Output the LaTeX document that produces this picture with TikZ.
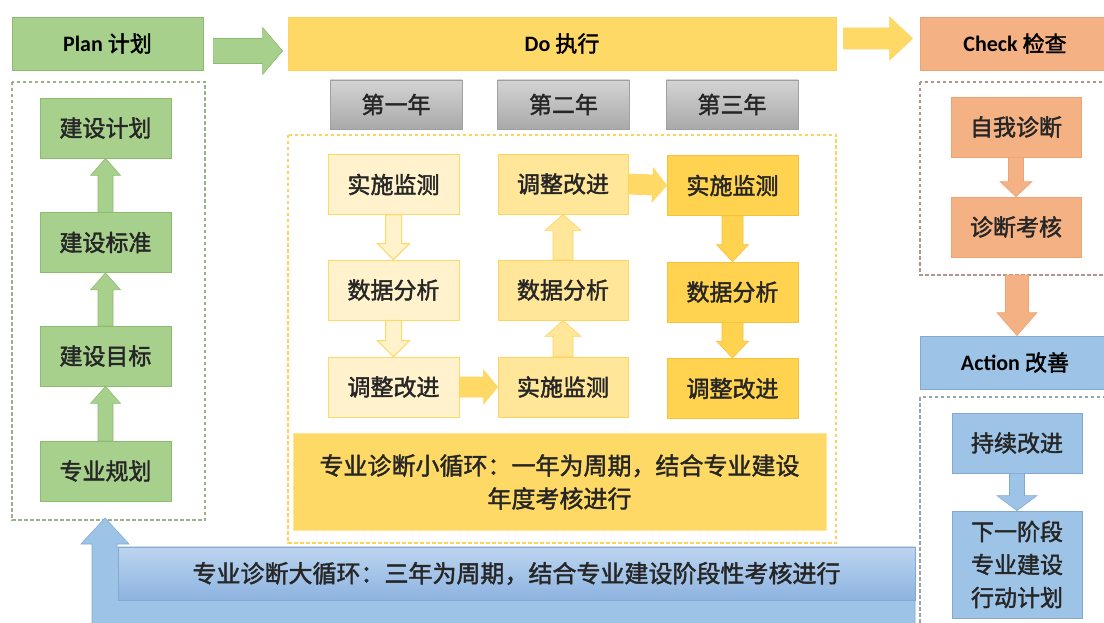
\documentclass[tikz,border=0pt]{standalone}
\usepackage{fontspec}
\setmainfont{Carlito}
\newfontfamily\cjk[FakeBold=1.8]{Noto Sans CJK SC}
\usetikzlibrary{calc}
\definecolor{gfill}{HTML}{A8D08D}
\definecolor{gdraw}{HTML}{8CBC6E}
\definecolor{gdash}{HTML}{9DB08A}
\definecolor{dofill}{HTML}{FFD966}
\definecolor{y1fill}{HTML}{FFF2CC}
\definecolor{y1draw}{HTML}{FFD966}
\definecolor{y2fill}{HTML}{FFE699}
\definecolor{y2draw}{HTML}{FFD45C}
\definecolor{y3fill}{HTML}{FFD24F}
\definecolor{y3draw}{HTML}{F5C23A}
\definecolor{bnfill}{HTML}{FFD966}
\definecolor{ydash}{HTML}{FFD35A}
\definecolor{grtop}{HTML}{D4D4D4}
\definecolor{grbot}{HTML}{A9A9A9}
\definecolor{grdraw}{HTML}{A0A0A0}
\definecolor{sfill}{HTML}{F4B183}
\definecolor{sdraw}{HTML}{EFA274}
\definecolor{sdash}{HTML}{B0958A}
\definecolor{bfill}{HTML}{9DC3E6}
\definecolor{bdraw}{HTML}{82A9D4}
\definecolor{btop}{HTML}{BCD5F0}
\definecolor{bbot}{HTML}{8DB3E0}
\definecolor{bdash}{HTML}{98A2B4}
\definecolor{txt}{HTML}{262626}
\newcommand\fatarrow[6][]{%
  \coordinate (faS) at (#2);
  \coordinate (faE) at (#3);
  \coordinate (faH) at ($(faE)!#6!(faS)$);
  \path[#1] ($(faS)!#4!90:(faE)$) -- ($(faH)!#4!90:(faE)$) -- ($(faH)!#5!90:(faE)$) -- (faE)
    -- ($(faH)!#5!-90:(faE)$) -- ($(faH)!#4!-90:(faE)$) -- ($(faS)!#4!-90:(faE)$) -- cycle;}
\tikzset{
  every node/.style={inner sep=0pt, align=center, text=txt},
  bx/.style={minimum width=131pt, minimum height=60pt, line width=0.8pt, font=\cjk\fontsize{23}{27}\selectfont},
  gbox/.style={bx, fill=gfill, draw=gdraw},
  ybox1/.style={bx, fill=y1fill, draw=y1draw},
  ybox2/.style={bx, fill=y2fill, draw=y2draw},
  ybox3/.style={bx, fill=y3fill, draw=y3draw},
  sbox/.style={bx, fill=sfill, draw=sdraw},
  bbox/.style={bx, fill=bfill, draw=bdraw},
  yearbox/.style={minimum width=132pt, minimum height=49pt, top color=grtop, bottom color=grbot, draw=grdraw, line width=0.6pt, font=\cjk\fontsize{23}{27}\selectfont},
  hdr/.style={minimum height=53pt, line width=0.8pt, font=\fontsize{22}{26}\selectfont, text=black},
  frame/.style={dashed, dash pattern=on 3.5pt off 2.5pt, line width=1.3pt},
  garrow/.style={fill=gfill, draw=gdraw, line width=0.6pt},
  y1arrow/.style={fill=y1fill, draw=y1draw, line width=1pt},
  y2arrow/.style={fill=y2fill, draw=y2draw, line width=0.6pt},
  y3arrow/.style={fill=y3fill, draw=y3draw, line width=0.6pt},
  harrow/.style={fill=dofill, draw=y2draw, line width=0.6pt},
  sarrow/.style={fill=sfill, draw=sdraw, line width=0.6pt},
  barrow/.style={fill=bfill, draw=bdraw, line width=0.6pt},
}
\begin{document}
\begin{tikzpicture}[x=1pt,y=-1pt]
\useasboundingbox (0,0) rectangle (1104,623);
\fill[white] (0,0) rectangle (1104,623);
% dashed frames
\draw[frame, gdash] (12,82) rectangle (205,520);
\draw[frame, ydash] (288,135) rectangle (836,543);
\draw[frame, sdash] (920,82) rectangle (1112,275);
\draw[frame, bdash] (920,397) rectangle (1112,640);
% headers
\node[hdr, fill=gfill, draw=gdraw, minimum width=191pt] (plan) at (107.5,43.5) {{\bfseries Plan} {\cjk 计划}};
\node[hdr, fill=dofill, draw=y2draw, minimum width=548pt] (do) at (562,43.5) {{\bfseries Do} {\cjk 执行}};
\node[hdr, fill=sfill, draw=sdraw, minimum width=190pt] (check) at (1015,43.5) {{\bfseries Check} {\cjk 检查}};
\node[hdr, fill=bfill, draw=bdraw, minimum width=190pt] (act) at (1015,362.5) {{\bfseries Action} {\cjk 改善}};
% plan column
\node[gbox] (p1) at (105.5,128) {建设计划};
\node[gbox] (p2) at (105.5,242.5) {建设标准};
\node[gbox] (p3) at (105.5,356) {建设目标};
\node[gbox] (p4) at (105.5,471) {专业规划};
\fatarrow[garrow]{p4.north}{p3.south}{7.5pt}{15pt}{17pt}
\fatarrow[garrow]{p3.north}{p2.south}{7.5pt}{15pt}{17pt}
\fatarrow[garrow]{p2.north}{p1.south}{7.5pt}{15pt}{17pt}
% years
\node[yearbox] (y1) at (396,104.5) {第一年};
\node[yearbox] (y2) at (563.5,104.5) {第二年};
\node[yearbox] (y3) at (732,104.5) {第三年};
% do columns
\node[ybox1] (a1) at (393.5,184.5) {实施监测};
\node[ybox1] (a2) at (393.5,290) {数据分析};
\node[ybox1] (a3) at (393.5,387) {调整改进};
\node[ybox2, minimum width=130pt] (b1) at (563,184) {调整改进};
\node[ybox2, minimum width=130pt] (b2) at (563,290) {数据分析};
\node[ybox2, minimum width=130pt] (b3) at (563,387) {实施监测};
\node[ybox3] (c1) at (732.5,185.5) {实施监测};
\node[ybox3] (c2) at (732.5,292) {数据分析};
\node[ybox3] (c3) at (732.5,388.5) {调整改进};
\fatarrow[y1arrow]{a1.south}{a2.north}{8pt}{16pt}{16pt}
\fatarrow[y1arrow]{a2.south}{a3.north}{8pt}{16pt}{16pt}
\fatarrow[y2arrow]{b3.north}{b2.south}{10pt}{18pt}{16pt}
\fatarrow[y2arrow]{b2.north}{b1.south}{10pt}{18pt}{16pt}
\fatarrow[y3arrow]{c1.south}{c2.north}{10.5pt}{16pt}{17pt}
\fatarrow[y3arrow]{c2.south}{c3.north}{10.5pt}{16pt}{17pt}
\fatarrow[harrow]{a3.east}{b3.west}{10pt}{17pt}{14pt}
\fatarrow[harrow]{b1.east}{c1.west}{10pt}{17pt}{14pt}
\node[fill=bnfill, draw=y2fill, line width=0.8pt, minimum width=533pt, minimum height=97pt, font=\cjk\fontsize{24}{33}\selectfont] (small) at (559.5,482) {专业诊断小循环：一年为周期，结合专业建设\\年度考核进行};
% top arrows
\fatarrow[garrow]{[xshift=10pt,yshift=-7.5pt]plan.east}{[xshift=-5pt,yshift=-7.5pt]do.west}{12.5pt}{23.5pt}{20pt}
\fatarrow[harrow]{[xshift=7pt,yshift=5pt]do.east}{[xshift=-7pt,yshift=5pt]check.west}{10.5pt}{21.5pt}{23pt}
% check column
\node[sbox, minimum width=130pt] (k1) at (1016,127) {自我诊断};
\node[sbox, minimum width=130pt] (k2) at (1016,227) {诊断考核};
\fatarrow[sarrow]{k1.south}{k2.north}{7.5pt}{16pt}{15pt}
\coordinate (kbot) at (1017,275);
\fatarrow[sarrow]{kbot}{[xshift=2pt]act.north}{11.5pt}{20pt}{23pt}
% action column
\node[bbox, minimum width=130pt] (m1) at (1017,443) {持续改进};
\node[bbox, minimum width=130pt, minimum height=107pt, font=\cjk\fontsize{23}{33}\selectfont] (m2) at (1017,564.5) {下一阶段\\专业建设\\行动计划};
\fatarrow[barrow]{m1.south}{m2.north}{7.5pt}{20pt}{15pt}
% big loop arrow
\coordinate (loopR) at (915,630);
\coordinate (loopTip) at (105,518);
\path[fill=bfill, draw=bdraw, line width=0.6pt] (loopR) -- (915,547) -- (117,547) -- (117,544) -- (129,544) -- (loopTip) -- (81,544) -- (92,544) -- (92,630) -- cycle;
\node[top color=btop, bottom color=bbot, draw=bdraw, line width=0.8pt, minimum width=797pt, minimum height=53pt, font=\cjk\fontsize{24}{28}\selectfont] (big) at (516.5,573.5) {专业诊断大循环：三年为周期，结合专业建设阶段性考核进行};
\end{tikzpicture}
\end{document}
